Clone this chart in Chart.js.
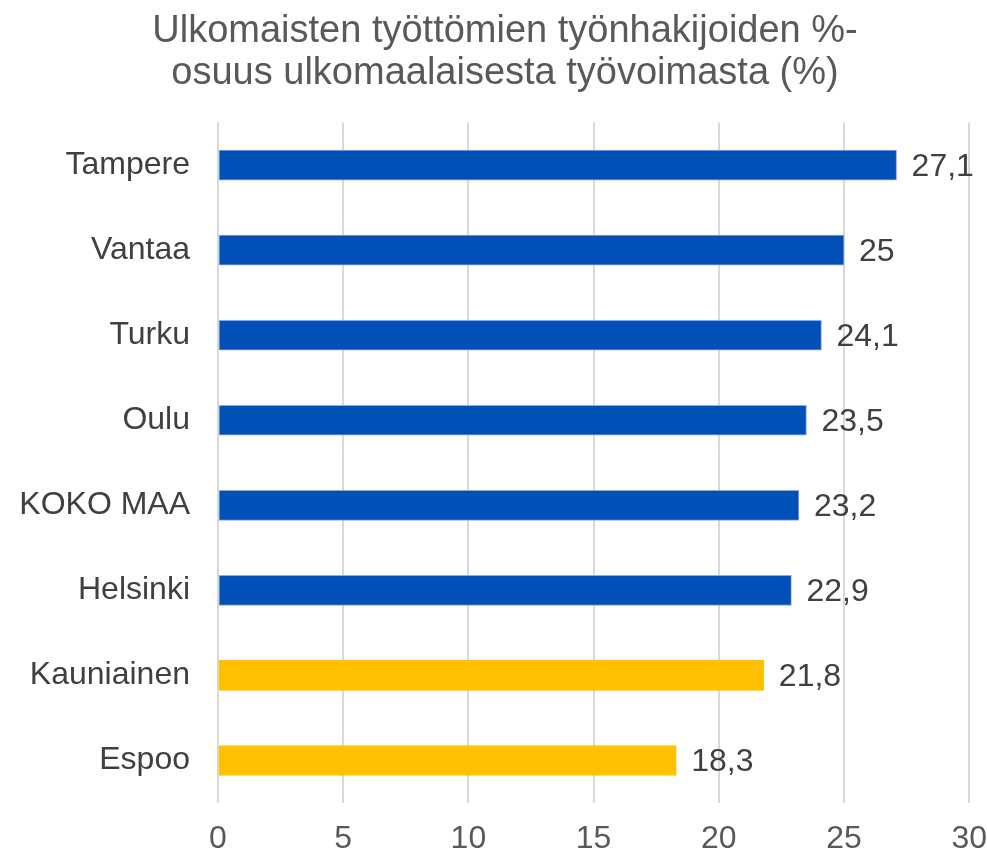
<!DOCTYPE html>
<html>
<head>
<meta charset="utf-8">
<script src="https://cdn.jsdelivr.net/npm/chart.js@4"></script>
<style>
  html, body { margin: 0; padding: 0; background: #fff; }
  #wrap { width: 987px; height: 855px; }
</style>
</head>
<body>
<div id="wrap"><canvas id="chart" width="987" height="855"></canvas></div>
<script>
const titleLines = ['Ulkomaisten työttömien työnhakijoiden %-', 'osuus ulkomaalaisesta työvoimasta (%)'];
const cities = ['Tampere', 'Vantaa', 'Turku', 'Oulu', 'KOKO MAA', 'Helsinki', 'Kauniainen', 'Espoo'];
const shares = [27.1, 25, 24.1, 23.5, 23.2, 22.9, 21.8, 18.3];
const barColors = ['#0050B8', '#0050B8', '#0050B8', '#0050B8', '#0050B8', '#0050B8', '#FFC000', '#FFC000'];
const barBorders = ['#8FAADC', '#8FAADC', '#8FAADC', '#8FAADC', '#8FAADC', '#8FAADC', '#FFC000', '#FFC000'];

const fontFamily = '"Liberation Sans", Arial, sans-serif';

// arvot palkkien perään
const valueLabels = {
    id: 'valueLabels',
    afterDatasetsDraw(chart) {
        const ctx = chart.ctx;
        const meta = chart.getDatasetMeta(0);
        ctx.save();
        ctx.font = '32px ' + fontFamily;
        ctx.fillStyle = '#404040';
        ctx.textAlign = 'left';
        ctx.textBaseline = 'middle';
        meta.data.forEach((bar, i) => {
            const txt = String(shares[i]).replace('.', ',');
            ctx.fillText(txt, bar.x + 15, bar.y + 2);
        });
        ctx.restore();
    }
};

// vasen reunus vain otsikon keskitystä varten, ei saa leikata y-akselin tekstejä
const unclipY = {
    id: 'unclipY',
    afterLayout(chart) {
        chart.scales.y.left = 0;
    }
};

new Chart(document.getElementById('chart').getContext('2d'), {
    type: 'bar',
    data: {
        labels: cities,
        datasets: [{
            data: shares,
            backgroundColor: barColors,
            borderColor: barBorders,
            borderWidth: 1,
            borderSkipped: false,
            barThickness: 30
        }]
    },
    options: {
        indexAxis: 'y',
        responsive: false,
        animation: false,
        layout: { padding: { top: 0, right: 0, bottom: 0, left: 23 } },
        plugins: {
            legend: { display: false },
            tooltip: { enabled: false },
            title: {
                display: true,
                text: titleLines,
                color: '#595959',
                font: { family: fontFamily, size: 38, weight: 'normal', lineHeight: 1.1 },
                padding: { top: 11, bottom: 28 }
            }
        },
        scales: {
            x: {
                min: 0,
                max: 30,
                ticks: {
                    stepSize: 5,
                    color: '#595959',
                    padding: 0,
                    font: { family: fontFamily, size: 32, lineHeight: 1.0 }
                },
                grid: {
                    color: '#D9D9D9',
                    lineWidth: 2,
                    drawTicks: true,
                    tickLength: 20,
                    tickColor: 'rgba(0,0,0,0)'
                },
                border: { display: false }
            },
            y: {
                ticks: {
                    color: '#404040',
                    padding: 28,
                    font: { family: fontFamily, size: 32 }
                },
                grid: { display: false, drawTicks: false },
                border: { display: false },
                afterFit(scale) { scale.width = 195; }
            }
        }
    },
    plugins: [valueLabels, unclipY]
});
</script>
</body>
</html>
